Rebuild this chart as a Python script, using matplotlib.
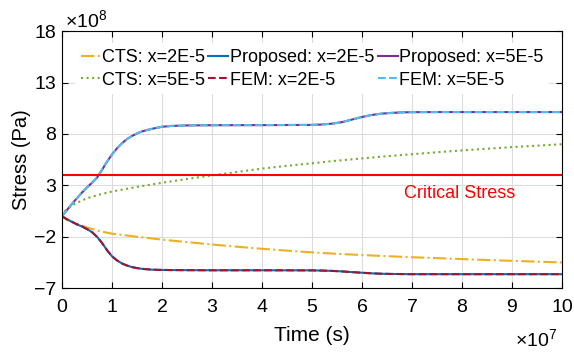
import matplotlib
matplotlib.use("Agg")
import matplotlib.pyplot as plt

plt.rcParams['font.family'] = ['Liberation Sans', 'DejaVu Sans']
plt.rcParams['mathtext.fontset'] = 'custom'
plt.rcParams['mathtext.rm'] = 'Liberation Sans'
plt.rcParams['mathtext.it'] = 'Liberation Sans:italic'
plt.rcParams['mathtext.bf'] = 'Liberation Sans:bold'

# time in units of 1e7 s, stress in units of 1e8 Pa
t_prop = [0, 0.1, 0.2, 0.3, 0.4, 0.5, 0.6, 0.7, 0.8, 0.9, 1.0, 1.1, 1.2, 1.3, 1.4, 1.5, 1.6, 1.8,
          2.0, 2.2, 2.5, 3, 4, 5, 5.2, 5.4, 5.6, 5.8, 6.0, 6.2, 6.4, 6.6, 6.8, 7.0, 7.5, 8, 9, 10]
prop_5e5 = [0, 0.6, 1.2, 1.75, 2.3, 2.8, 3.25, 3.75, 4.5, 5.3, 6.0, 6.6, 7.1, 7.5, 7.8, 8.05, 8.25, 8.5,
            8.7, 8.78, 8.83, 8.85, 8.86, 8.88, 8.92, 9.0, 9.15, 9.4, 9.65, 9.85, 9.98, 10.05, 10.1, 10.12,
            10.13, 10.13, 10.13, 10.13]
prop_2e5 = [0, -0.3, -0.55, -0.8, -1.0, -1.25, -1.55, -2.0, -2.6, -3.3, -3.9, -4.3, -4.6, -4.8, -4.95,
            -5.05, -5.12, -5.2, -5.23, -5.24, -5.25, -5.26, -5.26, -5.27, -5.29, -5.32, -5.37, -5.44,
            -5.5, -5.56, -5.6, -5.62, -5.63, -5.64, -5.64, -5.64, -5.64, -5.64]
fem_5e5 = list(prop_5e5)
fem_2e5 = list(prop_2e5)

t_cts = [0, 0.05, 0.1, 0.2, 0.3, 0.5, 0.75, 1, 1.5, 2, 2.5, 3, 3.5, 4, 4.5, 5, 5.5, 6, 6.5, 7,
         7.5, 8, 8.5, 9, 9.5, 10]
cts_5e5 = [0, 0.45, 0.7, 1.05, 1.3, 1.75, 2.1, 2.4, 2.85, 3.25, 3.62, 3.97, 4.3, 4.63, 4.9, 5.15,
           5.4, 5.62, 5.84, 6.03, 6.22, 6.4, 6.56, 6.72, 6.86, 7.0]
cts_2e5 = [0, -0.2, -0.35, -0.55, -0.75, -1.1, -1.45, -1.7, -2.0, -2.28, -2.52, -2.75, -2.97, -3.17,
           -3.35, -3.52, -3.66, -3.78, -3.89, -3.99, -4.08, -4.17, -4.26, -4.34, -4.42, -4.5]
critical_stress = 4.0

xticks = list(range(0, 11))
yticks = [-7, -2, 3, 8, 13, 18]

fig = plt.figure(figsize=(5.74, 3.54), dpi=100)
ax = fig.add_axes([0.108, 0.186, 0.871, 0.726])

lw = 1.5
ax.plot(t_cts, cts_2e5, '-.', color='#EDB120', lw=lw, label='CTS: x=2E-5')
ax.plot(t_cts, cts_5e5, ':', color='#77AC30', lw=lw, label='CTS: x=5E-5')
ax.plot(t_prop, prop_2e5, '-', color='#0072BD', lw=lw, label='Proposed: x=2E-5')
ax.plot(t_prop, fem_2e5, '--', color='#A2142F', lw=lw, label='FEM: x=2E-5')
ax.plot(t_prop, prop_5e5, '-', color='#7E2F8E', lw=lw, label='Proposed: x=5E-5')
ax.plot(t_prop, fem_5e5, '--', color='#4DBEEE', lw=lw, label='FEM: x=5E-5')
ax.axhline(critical_stress, color='#FF0000', lw=1.5)
ax.text(6.84, 2.25, 'Critical Stress', color='#FF0000', fontsize=13, ha='left', va='center')

ax.set_xlim(0, 10)
ax.set_ylim(-7, 18)
ax.set_xticks(xticks)
ax.set_yticks(yticks)
ax.tick_params(direction='in', top=True, right=True, labelsize=14, length=4, width=0.8)
ax.tick_params(axis='x', pad=7.5)
ax.tick_params(axis='y', pad=4)
ax.grid(True, color='#DCDCDC', lw=0.8)
ax.set_axisbelow(True)
for s in ax.spines.values():
    s.set_linewidth(0.8)

ax.set_xlabel('Time (s)', fontsize=15, labelpad=7.5)
ax.set_ylabel('Stress (Pa)', fontsize=14.5, labelpad=2)

fig.text(0.113, 0.924, r'$\times$10$^{8}$', fontsize=14, ha='left', va='baseline')
fig.text(0.897, 0.021, r'$\times$10$^{7}$', fontsize=14, ha='left', va='baseline')

leg = ax.legend(ncol=3, loc='upper center', bbox_to_anchor=(0.5, 1.0), fontsize=13,
                frameon=True, edgecolor='none', facecolor='white', framealpha=1,
                handlelength=1.1, handletextpad=0.08, columnspacing=0.2, borderpad=0.3,
                labelspacing=0.32, borderaxespad=0.68)

fig.savefig('out.png', dpi=100)
